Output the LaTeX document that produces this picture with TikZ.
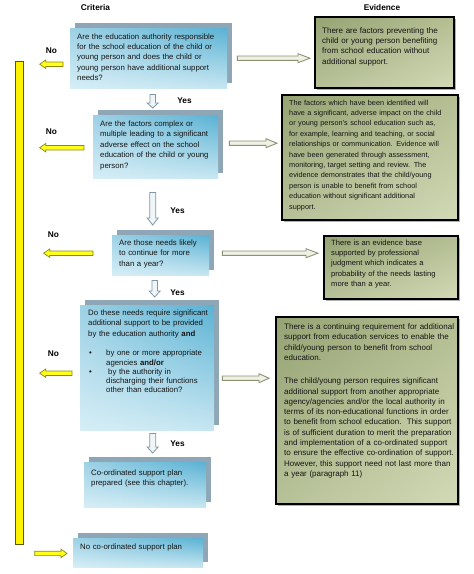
\documentclass[tikz,border=0pt]{standalone}
\usepackage{fontspec}
\setmainfont{Liberation Sans}
\usetikzlibrary{calc,shadows,shadings}
\definecolor{qUL}{HTML}{9DD1E5}
\definecolor{qUR}{HTML}{5AB2D4}
\definecolor{qLL}{HTML}{D6EEF6}
\definecolor{qLR}{HTML}{C6E6F1}
\definecolor{qshadow}{HTML}{8EA6B5}
\definecolor{eUL}{HTML}{95A373}
\definecolor{eUR}{HTML}{B4BE92}
\definecolor{eLL}{HTML}{B7C198}
\definecolor{eLR}{HTML}{D2D9B6}
\definecolor{txtcol}{HTML}{141414}
\definecolor{dfill}{HTML}{F0F6F8}
\definecolor{ddraw}{HTML}{7D98A6}
\definecolor{gfill}{HTML}{F0F0E4}
\definecolor{gdraw}{HTML}{8A9274}
\definecolor{yfill}{HTML}{FFFF1A}
\definecolor{ydraw}{HTML}{8A8A10}
\definecolor{bardraw}{HTML}{5A5A00}
\newcommand\blockh[6]{\path[#1] let \p1=(#2), \p2=(#3), \n1={ifthenelse(\x2>\x1,1,-1)} in
 (\x1,{\y1+#4}) -- ({\x2-(\n1)*#6},{\y1+#4}) -- ({\x2-(\n1)*#6},{\y1+#5}) -- (\x2,\y1) -- ({\x2-(\n1)*#6},{\y1-#5}) -- ({\x2-(\n1)*#6},{\y1-#4}) -- (\x1,{\y1-#4}) -- cycle;}
\newcommand\blockv[6]{\path[#1] let \p1=(#2), \p2=(#3), \n1={ifthenelse(\y2>\y1,1,-1)} in
 ({\x1+#4},\y1) -- ({\x1+#4},{\y2-(\n1)*#6}) -- ({\x1+#5},{\y2-(\n1)*#6}) -- (\x1,\y2) -- ({\x1-#5},{\y2-(\n1)*#6}) -- ({\x1-#4},{\y2-(\n1)*#6}) -- ({\x1-#4},\y1) -- cycle;}
\tikzset{
 qbox/.style={rectangle, inner sep=0pt, anchor=north west, upper left=qUL, upper right=qUR, lower left=qLL, lower right=qLR,
   general shadow={fill=qshadow, shadow xshift=5pt, shadow yshift=5pt}},
 ebox/.style={rectangle, inner sep=0pt, anchor=north west, draw=black, line width=1.5pt, upper left=eUL, upper right=eUR, lower left=eLL, lower right=eLR,
   general shadow={fill=black, opacity=.3, shadow xshift=2pt, shadow yshift=-2pt}},
 txt/.style={inner sep=0pt, anchor=base west, align=left, text width=200pt, text=txtcol, font=\fontsize{7.8}{10.4}\selectfont},
 lbl/.style={inner sep=0pt, text=black, font=\bfseries\fontsize{8.3}{10}\selectfont},
 barstyle/.style={rectangle, inner sep=0pt, anchor=north west, fill=yellow, draw=bardraw, line width=.7pt},
 darrow/.style={fill=dfill, draw=ddraw, line width=.8pt, line join=miter},
 grarrow/.style={fill=gfill, draw=gdraw, line width=.9pt, line join=miter},
 yarrow/.style={fill=yfill, draw=ydraw, line width=.7pt, line join=miter}
}
\begin{document}
\begin{tikzpicture}[x=1pt,y=-1pt]
\useasboundingbox (0,0) rectangle (474,574);
\fill[white] (0,0) rectangle (474,574);
% headings
\node[lbl] (hc) at (95.5,7.5) {Criteria};
\node[lbl] (he) at (382,8) {Evidence};
% criteria boxes
\node[qbox, minimum width=157pt, minimum height=60pt] (q1) at (70,28) {};
\node[qbox, minimum width=125pt, minimum height=63pt] (q2) at (93,115) {};
\node[qbox, minimum width=97pt, minimum height=40pt] (q3) at (112,235) {};
\node[qbox, minimum width=134pt, minimum height=125pt] (q4) at (80,305) {};
\node[qbox, minimum width=122pt, minimum height=45pt] (q5) at (84,462) {};
\node[qbox, minimum width=130pt, minimum height=29pt] (q6) at (73,538) {};
% evidence boxes
\node[ebox, minimum width=139pt, minimum height=71pt] (e1) at (314,16) {};
\node[ebox, minimum width=176pt, minimum height=125pt] (e2) at (281,94) {};
\node[ebox, minimum width=134pt, minimum height=63pt] (e3) at (323,235) {};
\node[ebox, minimum width=182pt, minimum height=187pt] (e4) at (275,316) {};
% yellow bar
\node[barstyle, minimum width=7.5pt, minimum height=483pt] (bar) at (15,61) {};
% down arrows
\blockv{darrow}{$(q1.south)+(4,6)$}{$(q2.north)+(0,-7)$}{2.8}{5.5}{5}
\blockv{darrow}{$(q2.south)+(-3,14)$}{$(q3.north)+(0,-10)$}{3}{5.5}{7}
\blockv{darrow}{$(q3.south)+(-6,5)$}{$(q4.north)+(0,-8)$}{2.8}{5.5}{6}
\blockv{darrow}{$(q4.south)+(5.5,3)$}{$(q5.north)+(0,-9)$}{3}{5.5}{6}
% grey arrows to evidence
\blockh{grarrow}{$(q1.east)+(10,0)$}{$(e1.west)+(-4,0)$}{2.2}{4.5}{12}
\blockh{grarrow}{$(q2.east)+(11,-3.5)$}{$(e2.west)+(-4,0)$}{2.2}{4.5}{11}
\blockh{grarrow}{$(q3.east)+(13,-2)$}{$(e3.west)+(-5,0)$}{2.2}{4.5}{12}
\blockh{grarrow}{$(q4.east)+(8,10.5)$}{$(e4.west)+(-6,0)$}{2.2}{4.5}{10}
% yellow arrows
\blockh{yarrow}{$(q1.west)+(-7,6)$}{$(bar.east)+(16.5,0)$}{2.2}{4.2}{6}
\blockh{yarrow}{$(q2.west)+(-9,1)$}{$(bar.east)+(16.5,0)$}{2.2}{4.2}{6}
\blockh{yarrow}{$(q3.west)+(-19,-2)$}{$(bar.east)+(20.5,0)$}{2.2}{4.2}{6}
\blockh{yarrow}{$(q4.west)+(-8,5.5)$}{$(bar.east)+(16.5,0)$}{2.2}{4.2}{6}
\blockh{yarrow}{$(bar.south east)+(11.5,8.7)$}{$(q6.west)+(-6,0)$}{2.2}{4.2}{6}
% labels
\node[lbl] (n1) at (51.5,50.7) {No};
\node[lbl] (n2) at (51.5,131.7) {No};
\node[lbl] (n3) at (53.5,235) {No};
\node[lbl] (n4) at (53.5,353.3) {No};
\node[lbl] (y1) at (184.5,100.7) {Yes};
\node[lbl] (y2) at (177.5,210.7) {Yes};
\node[lbl] (y3) at (177.5,292.7) {Yes};
\node[lbl] (y4) at (177.5,444) {Yes};
% criteria texts
\node[txt] (t1) at ($(q1.north west)+(7,11)$) {Are the education authority responsible\\
for the school education of the child or\\
young person and does the child or\\
young person have additional support\\
needs?};
\node[txt] (t2) at ($(q2.north west)+(7,11.5)$) {Are the factors complex or\\
multiple leading to a significant\\
adverse effect on the school\\
education of the child or young\\
person?};
\node[txt] (t3) at ($(q3.north west)+(7,10.5)$) {Are those needs likely\\
to continue for more\\
than a year?};
\node[txt] (t4) at ($(q4.north west)+(8,10.5)$) {Do these needs require significant\\
additional support to be provided\\
by the education authority \textbf{and}\\[9.1pt]
\hspace*{1pt}\makebox[17pt][l]{•}by one or more appropriate\\[-1.2pt]
\hspace*{18pt}agencies \textbf{and/or}\\[-1.2pt]
\hspace*{1pt}\makebox[17pt][l]{•}\hspace{2pt}by the authority in\\[-1.2pt]
\hspace*{18pt}discharging their functions\\[-1.2pt]
\hspace*{18pt}other than education?};
\node[txt] (t5) at ($(q5.north west)+(7,13.5)$) {Co-ordinated support plan\\
prepared (see this chapter).};
\node[txt] (t6) at ($(q6.north west)+(7,11.5)$) {No co-ordinated support plan};
% evidence texts
\node[txt, font=\fontsize{8}{10.4}\selectfont] (te1) at ($(e1.north west)+(8,17)$) {There are factors preventing the\\
child or young person benefiting\\
from school education without\\
additional support.};
\node[txt, font=\fontsize{7.3}{10.4}\selectfont] (te2) at ($(e2.north west)+(8,11)$) {The factors which have been identified will\\
have a significant, adverse impact on the child\\
or young person's school education such as,\\
for example, learning and teaching, or social\\
relationships or communication. Evidence will\\
have been generated through assessment,\\
monitoring, target setting and review. The\\
evidence demonstrates that the child/young\\
person is unable to benefit from school\\
education without significant additional\\
support.};
\node[txt, font=\fontsize{7.6}{10.4}\selectfont] (te3) at ($(e3.north west)+(8,10)$) {There is an evidence base\\
supported by professional\\
judgment which indicates a\\
probability of the needs lasting\\
more than a year.};
\node[txt, font=\fontsize{8}{10.3}\selectfont] (te4) at ($(e4.north west)+(9,13.5)$) {There is a continuing requirement for additional\\
support from education services to enable the\\
child/young person to benefit from school\\
education.\\[13pt]
The child/young person requires significant\\
additional support from another appropriate\\
agency/agencies and/or the local authority in\\
terms of its non-educational functions in order\\
to benefit from school education.\ \ This support\\
is of sufficient duration to merit the preparation\\
and implementation of a co-ordinated support\\
to ensure the effective co-ordination of support.\\
However, this support need not last more than\\
a year (paragraph 11)};
\end{tikzpicture}
\end{document}
